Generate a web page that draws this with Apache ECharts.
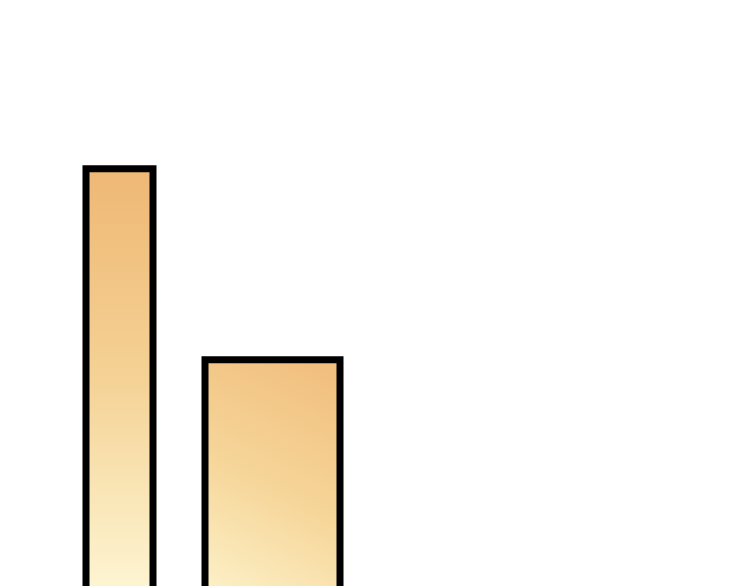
<!DOCTYPE html>
<html lang="en">

<head>
    <meta charset="UTF-8">
    <title>Bars</title>
    <script src="https://cdn.jsdelivr.net/npm/echarts@6.0.0/dist/echarts.min.js"></script>
    <style>
        html, body { margin: 0; padding: 0; background: #fff; }
    </style>
</head>

<body>
    <div id="main" style="width: 750px;height:586px;"></div>

    <script>
        // data
        const categories = ['A', 'B'];
        const narrowValues = [73.6, '-'];
        const wideValues = ['-', 43.1];

        const myChart = echarts.init(document.getElementById('main'));

        const border = { borderColor: '#000', borderWidth: 7 };

        let option = {
            animation: false,
            grid: { left: 43, width: 306, top: 0, height: 626, outerBoundsMode: 'none', containLabel: false },
            xAxis: [
                { type: 'category', data: categories, show: false },
                { type: 'category', data: categories, show: false }
            ],
            yAxis: { type: 'value', min: 0, max: 100, show: false },
            series: [
                {
                    type: 'bar',
                    xAxisIndex: 0,
                    barWidth: 74,
                    clip: false,
                    data: narrowValues,
                    itemStyle: Object.assign({
                        color: new echarts.graphic.LinearGradient(0, 0, 0, 1, [
                            { offset: 0, color: '#efb774' },
                            { offset: 0.45, color: '#f4d194' },
                            { offset: 1, color: '#fffbdc' }
                        ])
                    }, border)
                },
                {
                    type: 'bar',
                    xAxisIndex: 1,
                    barWidth: 142,
                    clip: false,
                    data: wideValues,
                    itemStyle: Object.assign({
                        color: new echarts.graphic.LinearGradient(1, 0, 0, 1, [
                            { offset: 0, color: '#f0bc7b' },
                            { offset: 0.5, color: '#f6d69a' },
                            { offset: 1, color: '#fef8d4' }
                        ])
                    }, border)
                }
            ]
        };

        myChart.setOption(option);
    </script>
</body>

</html>
